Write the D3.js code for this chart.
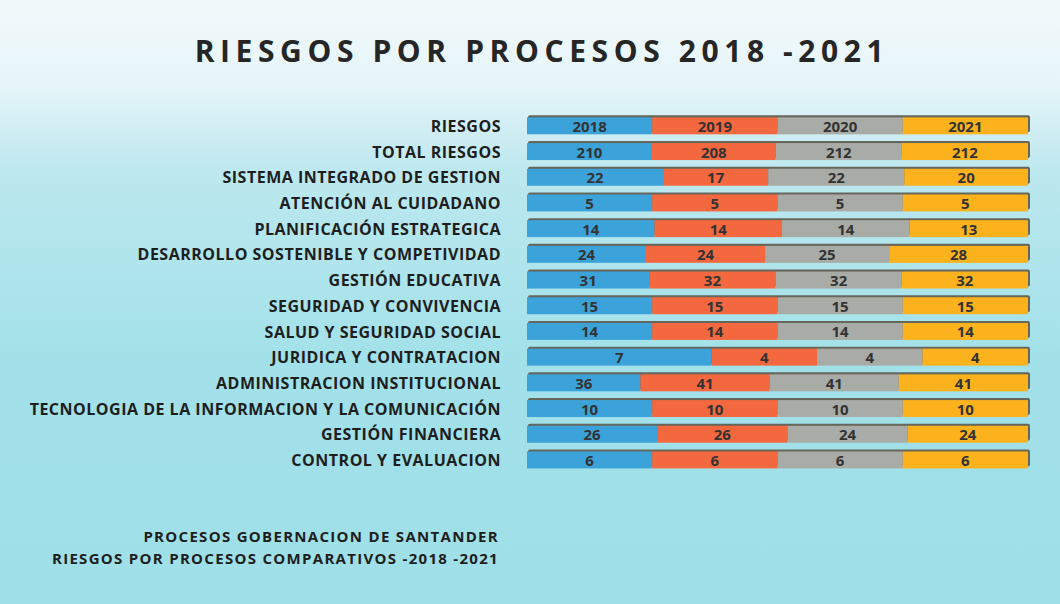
<!DOCTYPE html>
<html>
<head>
<meta charset="utf-8">
<script src="https://cdn.jsdelivr.net/npm/d3@7"></script>
<style>
  html, body { margin: 0; padding: 0; background: #bfeaf0; }
  svg { display: block; }
</style>
</head>
<body>
<script>
// categories, top to bottom
var categories = [
    "RIESGOS",
    "TOTAL RIESGOS",
    "SISTEMA INTEGRADO DE GESTION",
    "ATENCIÓN AL CUIDADANO",
    "PLANIFICACIÓN ESTRATEGICA",
    "DESARROLLO SOSTENIBLE Y COMPETIVIDAD",
    "GESTIÓN EDUCATIVA",
    "SEGURIDAD Y CONVIVENCIA",
    "SALUD Y SEGURIDAD SOCIAL",
    "JURIDICA Y CONTRATACION",
    "ADMINISTRACION INSTITUCIONAL",
    "TECNOLOGIA DE LA INFORMACION Y LA COMUNICACIÓN",
    "GESTIÓN FINANCIERA",
    "CONTROL Y EVALUACION"
];

var years = ["2018", "2019", "2020", "2021"];

// series values per year (first row is the header row, drawn as equal parts)
var v2018 = [1, 210, 22, 5, 14, 24, 31, 15, 14, 7, 36, 10, 26, 6];
var v2019 = [1, 208, 17, 5, 14, 24, 32, 15, 14, 4, 41, 10, 26, 6];
var v2020 = [1, 212, 22, 5, 14, 25, 32, 15, 14, 4, 41, 10, 24, 6];
var v2021 = [1, 212, 20, 5, 13, 28, 32, 15, 14, 4, 41, 10, 24, 6];

var title = "RIESGOS POR PROCESOS 2018 -2021";
var footer1 = "PROCESOS GOBERNACION DE SANTANDER";
var footer2 = "RIESGOS POR PROCESOS COMPARATIVOS -2018 -2021";

var colors = {"2018": "#3ba3da", "2019": "#f4683f", "2020": "#a9aba6", "2021": "#fbb21c"};

function makePlot(){

    const width = 1060;
    const height = 604;
    const marginTop = 113;
    const marginLeft = 527;
    const marginRight = 32;
    const rowStep = 25.7;

    var series = [v2018, v2019, v2020, v2021];

    // build rows for the stack
    var rows = categories.map((c, i) => {
        var r = {cat: c, idx: i};
        years.forEach((y, j) => r[y] = series[j][i]);
        return r;
    });

    const stack = d3.stack()
        .keys(years)
        .offset(d3.stackOffsetExpand);
    const stacked = stack(rows);

    const x = d3.scaleLinear()
        .domain([0, 1])
        .range([marginLeft, width - marginRight]);

    const y = d3.scaleBand()
        .domain(categories)
        .range([marginTop, marginTop + rowStep * categories.length])
        .paddingInner(0.34)
        .paddingOuter(0.17);

    const svg = d3.create("svg")
        .attr("width", width)
        .attr("height", height)
        .attr("viewBox", [0, 0, width, height]);

    document.body.appendChild(svg.node());

    // background, photo of the slide: pale at top, cyan lower down
    var defs = svg.append("defs");
    var grad = defs.append("linearGradient")
        .attr("id", "bg")
        .attr("x1", 0).attr("y1", 0).attr("x2", 0).attr("y2", 1);
    grad.append("stop").attr("offset", "0%").attr("stop-color", "#f2f9fb");
    grad.append("stop").attr("offset", "14%").attr("stop-color", "#e6f5f9");
    grad.append("stop").attr("offset", "28%").attr("stop-color", "#bde8ef");
    grad.append("stop").attr("offset", "60%").attr("stop-color", "#a2e1e9");
    grad.append("stop").attr("offset", "100%").attr("stop-color", "#9fdfe7");

    svg.append("rect")
        .attr("width", width)
        .attr("height", height)
        .attr("fill", "url(#bg)");

    // Title
    svg.append("text")
        .attr("x", 542)
        .attr("y", 62)
        .attr("text-anchor", "middle")
        .attr("font-family", "'Open Sans', sans-serif")
        .attr("font-weight", "bold")
        .attr("font-size", 30)
        .attr("letter-spacing", 5.6)
        .attr("fill", "#262626")
        .text(title);

    // bar shadow (dark rim top and right)
    svg.append("g")
        .selectAll()
        .data(rows)
        .join("rect")
        .attr("x", x(0) + 1)
        .attr("y", d => y(d.cat) - 2)
        .attr("width", x(1) - x(0) + 1)
        .attr("height", y.bandwidth())
        .attr("rx", 2)
        .attr("fill", "#66665a");

    // segments
    svg.append("g")
        .selectAll("g")
        .data(stacked)
        .join("g")
        .attr("fill", d => colors[d.key])
        .selectAll("rect")
        .data(d => d)
        .join("rect")
        .attr("x", d => x(d[0]))
        .attr("y", d => y(d.data.cat))
        .attr("width", d => x(d[1]) - x(d[0]))
        .attr("height", y.bandwidth());

    // value labels
    svg.append("g")
        .attr("font-family", "'Open Sans', sans-serif")
        .attr("font-weight", "bold")
        .attr("font-size", 15)
        .attr("fill", "#333333")
        .attr("text-anchor", "middle")
        .selectAll("g")
        .data(stacked)
        .join("g")
        .selectAll("text")
        .data(d => d.map(s => ({s: s, key: d.key})))
        .join("text")
        .attr("x", d => (x(d.s[0]) + x(d.s[1])) / 2)
        .attr("y", d => y(d.s.data.cat) + y.bandwidth() / 2 + 6)
        .text(d => d.s.data.idx === 0 ? d.key : d.s.data[d.key]);

    // category axis
    svg.append("g")
        .attr("transform", `translate(${marginLeft - 26},0)`)
        .call(d3.axisLeft(y).tickSize(0).tickPadding(0))
        .call(g => g.select(".domain").remove())
        .call(g => g.selectAll("text")
            .attr("font-family", "'Open Sans', sans-serif")
            .attr("font-weight", "bold")
            .attr("font-size", 16)
            .attr("letter-spacing", 0.5)
            .attr("fill", "#1e1e1e")
            .attr("dy", "0.38em"));

    // footer notes
    svg.append("text")
        .attr("x", 499)
        .attr("y", 542)
        .attr("text-anchor", "end")
        .attr("font-family", "'Open Sans', sans-serif")
        .attr("font-weight", "bold")
        .attr("font-size", 15)
        .attr("letter-spacing", 1.3)
        .attr("fill", "#1e1e1e")
        .text(footer1);

    svg.append("text")
        .attr("x", 499)
        .attr("y", 564)
        .attr("text-anchor", "end")
        .attr("font-family", "'Open Sans', sans-serif")
        .attr("font-weight", "bold")
        .attr("font-size", 15)
        .attr("letter-spacing", 1.3)
        .attr("fill", "#1e1e1e")
        .text(footer2);

    return svg.node();
}

makePlot();
</script>
</body>
</html>
